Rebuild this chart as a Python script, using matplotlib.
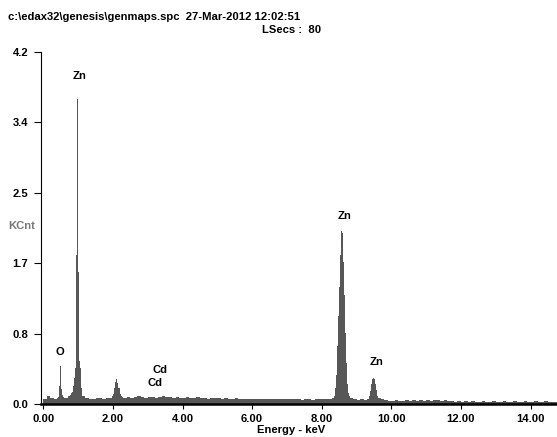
import matplotlib
matplotlib.use('Agg')
import matplotlib.pyplot as plt
import numpy as np

# spectrum background, one value per 0.1 keV channel starting at 0.0 keV
bg_start = 0.0
bg_step = 0.1
bg_counts = [
    0.06, 0.10, 0.08, 0.07, 0.08, 0.09, 0.08, 0.10, 0.14, 0.20,
    0.20, 0.10, 0.08, 0.07, 0.07, 0.08, 0.08, 0.07, 0.08, 0.08,
    0.09, 0.10, 0.09, 0.08, 0.09, 0.08, 0.09, 0.10, 0.09, 0.08,
    0.09, 0.09, 0.08, 0.09, 0.10, 0.09, 0.09, 0.08, 0.09, 0.08,
    0.08, 0.09, 0.08, 0.08, 0.09, 0.08, 0.08, 0.07, 0.08, 0.08,
    0.08, 0.07, 0.08, 0.07, 0.07, 0.08, 0.07, 0.07, 0.06, 0.07,
    0.07, 0.06, 0.07, 0.06, 0.07, 0.06, 0.06, 0.07, 0.06, 0.06,
    0.06, 0.07, 0.06, 0.06, 0.05, 0.06, 0.06, 0.05, 0.06, 0.06,
    0.06, 0.06, 0.07, 0.08, 0.10, 0.10, 0.10, 0.10, 0.08, 0.06,
    0.05, 0.06, 0.05, 0.06, 0.07, 0.08, 0.08, 0.06, 0.05, 0.04,
    0.04, 0.05, 0.04, 0.04, 0.05, 0.04, 0.05, 0.04, 0.05, 0.04,
    0.05, 0.04, 0.05, 0.05, 0.04, 0.05, 0.04, 0.04, 0.03, 0.04,
    0.03, 0.04, 0.03, 0.04, 0.03, 0.03, 0.04, 0.03, 0.03, 0.04,
    0.03, 0.03, 0.04, 0.03, 0.03, 0.04, 0.03, 0.03, 0.04, 0.03,
    0.03, 0.04, 0.03, 0.03, 0.04, 0.03, 0.03, 0.03,
]

# peaks (channel energy in keV, counts in KCnt)
o_energy = [0.42, 0.44, 0.46, 0.48, 0.50, 0.52, 0.54, 0.56]
o_counts = [0.09, 0.12, 0.22, 0.46, 0.38, 0.18, 0.11, 0.09]

znl_energy = [0.78, 0.81, 0.84, 0.87, 0.90, 0.93, 0.95, 0.97, 0.99, 1.01, 1.03, 1.06, 1.09, 1.12]
znl_counts = [0.11, 0.15, 0.22, 0.32, 0.44, 0.50, 1.78, 3.64, 3.36, 1.58, 0.52, 0.44, 0.16, 0.10]

p21_energy = [1.98, 2.01, 2.04, 2.07, 2.10, 2.13, 2.16, 2.19, 2.22]
p21_counts = [0.10, 0.13, 0.20, 0.27, 0.30, 0.26, 0.20, 0.13, 0.10]

znka_energy = [8.34, 8.37, 8.40, 8.43, 8.46, 8.49, 8.52, 8.55, 8.58, 8.61, 8.64, 8.67, 8.70, 8.73, 8.76, 8.79]
znka_counts = [0.10, 0.20, 0.35, 0.70, 1.05, 1.40, 1.78, 2.07, 2.04, 1.70, 1.30, 0.85, 0.50, 0.25, 0.14, 0.09]

znkb_energy = [9.33, 9.36, 9.39, 9.42, 9.45, 9.48, 9.51, 9.54, 9.57, 9.60, 9.63]
znkb_counts = [0.07, 0.10, 0.16, 0.24, 0.30, 0.32, 0.30, 0.25, 0.17, 0.10, 0.07]

# element labels (text, keV, KCnt)
labels = [
    ('Zn', 1.05, 3.91),
    ('O', 0.48, 0.62),
    ('Cd', 3.36, 0.41),
    ('Cd', 3.21, 0.26),
    ('Zn', 8.67, 2.24),
    ('Zn', 9.58, 0.51),
]

y_max = 4.2
x_ticks = [0, 2, 4, 6, 8, 10, 12, 14]

fill_color = '#575757'
font_size = 8.1
plt.rcParams['font.family'] = ['Liberation Sans', 'DejaVu Sans']

fig = plt.figure(figsize=(5.57, 4.37), dpi=100)
ax = fig.add_axes([0.0731, 0.0744, 0.9269, 0.8066])

# background as step fill
bg_x = bg_start + bg_step * np.arange(len(bg_counts) + 1)
bg_y = list(bg_counts) + [bg_counts[-1]]
ax.fill_between(bg_x, 0, bg_y, step='post', color=fill_color, linewidth=0)

# peaks drawn over the background
for energy, counts in [(o_energy, o_counts), (znl_energy, znl_counts), (p21_energy, p21_counts),
                       (znka_energy, znka_counts), (znkb_energy, znkb_counts)]:
    step = energy[-1] - energy[-2]
    px = list(energy) + [energy[-1] + step]
    py = list(counts) + [counts[-1]]
    ax.fill_between(px, 0, py, step='post', color=fill_color, linewidth=0)

for text, x, y in labels:
    ax.text(x, y, text, ha='center', va='center', fontsize=font_size, fontweight='bold')

# axis limits and ticks
ax.set_xlim(-0.075, 14.76)
ax.set_ylim(0, y_max)
y_ticks = [y_max * k / 5 for k in range(6)]
ax.set_yticks(y_ticks)
ax.set_yticklabels(['%.1f' % v for v in y_ticks], fontsize=font_size, fontweight='bold')
ax.set_xticks(x_ticks)
ax.set_xticklabels(['%.2f' % v for v in x_ticks], fontsize=font_size, fontweight='bold')
ax.tick_params(axis='y', length=5, width=0.8, pad=4)
ax.tick_params(axis='x', length=3.5, width=0.8, pad=3)

ax.spines['top'].set_visible(False)
ax.spines['right'].set_visible(False)
ax.spines['left'].set_linewidth(0.8)
ax.spines['bottom'].set_linewidth(1.8)
ax.spines['bottom'].set_zorder(5)

# header and axis names
fig.text(8 / 557, 1 - 17 / 437, 'c:\\edax32\\genesis\\genmaps.spc  27-Mar-2012 12:02:51',
         ha='left', va='center', fontsize=font_size, fontweight='bold')
fig.text(321 / 557, 1 - 30 / 437, 'LSecs :  80', ha='right', va='center', fontsize=font_size, fontweight='bold')
fig.text(291 / 557, 1 - 430 / 437, 'Energy - keV', ha='center', va='center', fontsize=font_size, fontweight='bold')
fig.text(8 / 557, 1 - 226 / 437, 'KCnt', ha='left', va='center', fontsize=font_size, fontweight='bold',
         color='#777777')

fig.savefig('out.png', dpi=100)
